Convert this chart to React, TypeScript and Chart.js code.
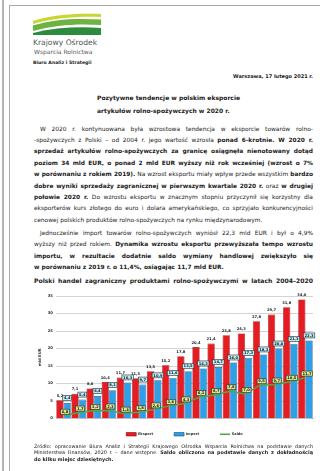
import React, { useEffect, useRef } from 'react';
import { Chart, registerables } from 'chart.js';

Chart.register(...registerables);

const years = ['2004', '2005', '2006', '2007', '2008', '2009', '2010', '2011', '2012', '2013', '2014', '2015', '2016', '2017', '2018', '2019', '2020'];
const exportVals = [5.2, 7.1, 8.6, 10.4, 11.7, 11.5, 13.5, 15.2, 17.8, 20.4, 21.4, 23.8, 24.3, 27.8, 29.7, 31.8, 34.0];
const importVals = [4.4, 5.4, 6.4, 8.1, 10.3, 9.7, 10.9, 11.6, 13.5, 14.3, 14.7, 16.0, 17.3, 18.3, 20.0, 21.3, 22.3];
const saldoVals = [0.8, 1.7, 2.2, 2.3, 1.4, 1.8, 2.6, 3.6, 4.3, 6.1, 6.7, 7.8, 7.0, 9.5, 9.7, 10.5, 11.7];
const seriesNames = ['Eksport', 'Import', 'Saldo'];
const yMax = 35;
const yStep = 5;
const yTitle = 'mld EUR';

const FONT = '"DejaVu Sans", Verdana, sans-serif';
const fmt = (v: number) => v.toFixed(1).replace('.', ',');

type Seg = [string, boolean];

const bodyLines: { segs: Seg[]; indent?: boolean; last?: boolean }[] = [
  { segs: [['W 2020 r. kontynuowana była wzrostowa tendencja w eksporcie towarów rolno-', false]], indent: true },
  { segs: [['-spożywczych z Polski – od 2004 r. jego wartość wzrosła ', false], ['ponad 6-krotnie. W 2020 r.', true]] },
  { segs: [['sprzedaż artykułów rolno-spożywczych za granicę osiągnęła nienotowany dotąd', true]] },
  { segs: [['poziom 34 mld EUR, o ponad 2 mld EUR wyższy niż rok wcześniej (wzrost o 7%', true]] },
  { segs: [['w porównaniu z rokiem 2019).', true], [' Na wzrost eksportu miały wpływ przede wszystkim ', false], ['bardzo', true]] },
  { segs: [['dobre wyniki sprzedaży zagranicznej w pierwszym kwartale 2020 r.', true], [' oraz ', false], ['w drugiej', true]] },
  { segs: [['połowie 2020 r.', true], [' Do wzrostu eksportu w znacznym stopniu przyczynił się korzystny dla', false]] },
  { segs: [['eksporterów kurs złotego do euro i dolara amerykańskiego, co sprzyjało konkurencyjności', false]] },
  { segs: [['cenowej polskich produktów rolno-spożywczych na rynku międzynarodowym.', false]], last: true },
];
const body2Lines: { segs: Seg[]; indent?: boolean; last?: boolean }[] = [
  { segs: [['Jednocześnie import towarów rolno-spożywczych wyniósł 22,3 mld EUR i był o 4,9%', false]], indent: true },
  { segs: [['wyższy niż przed rokiem. ', false], ['Dynamika wzrostu eksportu przewyższała tempo wzrostu', true]] },
  { segs: [['importu, w rezultacie dodatnie saldo wymiany handlowej zwiększyło się', true]] },
  { segs: [['w porównaniu z 2019 r. o 11,4%, osiągając 11,7 mld EUR.', true]], last: true },
];
const footLines: { segs: Seg[]; last?: boolean }[] = [
  { segs: [['Źródło: opracowanie Biura Analiz i Strategii Krajowego Ośrodka Wsparcia Rolnictwa na podstawie danych', false]] },
  { segs: [['Ministerstwa Finansów, 2020 r. – dane wstępne. ', false], ['Saldo obliczono na podstawie danych z dokładnością', true]] },
  { segs: [['do kilku miejsc dziesiętnych.', true]], last: true },
];

function TextLine(props: { segs: Seg[]; center: number; left: number; width: number; size: number; justify: boolean }) {
  const lh = 8;
  return (
    <div
      style={{
        position: 'absolute',
        top: props.center - lh / 2,
        left: props.left,
        width: props.width,
        height: lh,
        lineHeight: lh + 'px',
        fontSize: props.size,
        fontFamily: FONT,
        color: '#1a1a1a',
        whiteSpace: 'nowrap',
        textAlign: props.justify ? 'justify' : 'left',
        textAlignLast: props.justify ? 'justify' : 'left',
      } as any}
    >
      {props.segs.map(([t, b], i) => (
        <span key={i} style={{ fontWeight: b ? 'bold' : 'normal' }}>{t}</span>
      ))}
    </div>
  );
}

const labelPlugin = {
  id: 'valueLabels',
  afterDatasetsDraw(chart: any) {
    const ctx = chart.ctx as CanvasRenderingContext2D;
    ctx.save();
    ctx.textAlign = 'center';
    ctx.textBaseline = 'middle';
    ctx.font = 'bold 3.7px ' + FONT;
    const m0 = chart.getDatasetMeta(0);
    m0.data.forEach((el: any, i: number) => {
      ctx.fillStyle = '#1a1a1a';
      ctx.fillText(fmt(exportVals[i]), el.x, el.y - 4.5);
    });
    const drawBox = (t: string, cx: number, cy: number, fill: string) => {
      const w = ctx.measureText(t).width + 2.4;
      const h = 5;
      ctx.fillStyle = fill;
      ctx.fillRect(cx - w / 2, cy - h / 2, w, h);
      ctx.lineWidth = 0.6;
      ctx.strokeStyle = '#2a2a2a';
      ctx.strokeRect(cx - w / 2, cy - h / 2, w, h);
      ctx.fillStyle = '#1a1a1a';
      ctx.fillText(t, cx, cy + 0.2);
    };
    const m1 = chart.getDatasetMeta(1);
    m1.data.forEach((el: any, i: number) => {
      drawBox(fmt(importVals[i]), el.x, el.y - 5, '#bfeffc');
    });
    const m2 = chart.getDatasetMeta(2);
    m2.data.forEach((el: any, i: number) => {
      drawBox(fmt(saldoVals[i]), el.x + 1.5, el.y - 4, '#dbe98c');
    });
    ctx.restore();
  },
};

function ChartBox() {
  const ref = useRef<HTMLCanvasElement | null>(null);
  useEffect(() => {
    if (!ref.current) return;
    Chart.defaults.font.family = FONT;
    const chart = new Chart(ref.current, {
      type: 'bar',
      data: {
        labels: years,
        datasets: [
          {
            type: 'bar',
            label: seriesNames[0],
            data: exportVals,
            backgroundColor: '#e51d23',
            borderColor: '#8e0a0e',
            borderWidth: 0.6,
            categoryPercentage: 0.96,
            barPercentage: 1,
            order: 1,
          },
          {
            type: 'bar',
            label: seriesNames[1],
            data: importVals,
            backgroundColor: '#2f9fe8',
            borderColor: '#1d4f7c',
            borderWidth: 0.6,
            categoryPercentage: 0.96,
            barPercentage: 1,
            order: 2,
          },
          {
            type: 'line',
            label: seriesNames[2],
            data: saldoVals,
            borderColor: '#4fa845',
            backgroundColor: '#4fa845',
            borderWidth: 1.4,
            pointRadius: 0,
            tension: 0,
            order: 0,
          },
        ] as any,
      },
      options: {
        animation: false,
        responsive: false,
        devicePixelRatio: 1,
        layout: { padding: { left: 0, right: 7, top: 10, bottom: 0 } },
        scales: {
          x: {
            grid: { display: false },
            border: { display: true, color: '#bfbfbf' },
            ticks: { font: { size: 3.4, weight: 'bold' }, color: '#333', padding: 1.5, maxRotation: 0, autoSkip: false },
            afterFit: (s: any) => { s.height = 4; },
          },
          y: {
            min: 0,
            max: yMax,
            ticks: { stepSize: yStep, font: { size: 3.8, weight: 'bold' }, color: '#333', padding: 3 },
            grid: { color: '#d4d4d4', lineWidth: 1, drawTicks: false },
            border: { display: false },
            title: { display: true, text: yTitle, font: { size: 3.8, weight: 'bold' }, color: '#333', padding: { top: 9.6, bottom: 0 } },
            afterFit: (s: any) => { s.width = 28; },
          },
        },
        plugins: {
          tooltip: { enabled: false },
          legend: {
            position: 'bottom',
            fullSize: false,
            labels: {
              usePointStyle: true,
              pointStyleWidth: 10,
              boxHeight: 3.6,
              padding: 10,
              color: '#333',
              font: { size: 3.5, weight: 'bold' },
              generateLabels: (c: any) => {
                const items = (Chart.defaults.plugins.legend.labels as any).generateLabels(c);
                items.sort((a: any, b: any) => a.datasetIndex - b.datasetIndex);
                return items.map((it: any) => ({
                  ...it,
                  text: it.datasetIndex < 2 ? it.text + '         ' : it.text,
                  pointStyle: it.datasetIndex === 2 ? 'line' : 'rect',
                  lineWidth: it.datasetIndex === 2 ? 1.4 : 0.6,
                }));
              },
            },
          },
        },
      } as any,
      plugins: [labelPlugin],
    });
    return () => chart.destroy();
  }, []);
  return (
    <canvas
      ref={ref}
      width={292}
      height={160}
      style={{ position: 'absolute', left: 28, top: 286, width: 292, height: 160 }}
    />
  );
}

function Logo() {
  return (
    <svg style={{ position: 'absolute', left: 33, top: 13 }} width={68} height={23} viewBox="0 0 68 23">
      <path d="M0,8 C18,2 42,0 68,1 L68,4 C44,3 20,5 0,11 Z" fill="#c7d630" />
      <path d="M0,12.5 C20,6 44,5 68,6.5 L68,12 C44,10.5 22,12 0,18 Z" fill="#6db33f" />
      <path d="M0,20 C22,14.5 46,13.5 68,15 L68,22 L0,22 Z" fill="#2c8b3d" />
    </svg>
  );
}

export default function App() {
  const L = 34;
  const W = 279;
  return (
    <div style={{ position: 'absolute', left: 0, top: 0, width: 320, height: 471, overflow: 'hidden', background: '#fff', fontFamily: FONT }}>
      <div style={{ position: 'absolute', left: 2, top: 0, width: 2, height: 471, background: '#b4b4b4' }} />
      <div style={{ position: 'absolute', left: 9, top: 5, width: 1, height: 466, background: '#a8a8a8' }} />
      <div style={{ position: 'absolute', left: 9, top: 5, width: 311, height: 1, background: '#a8a8a8' }} />
      <Logo />
      <div style={{ position: 'absolute', left: 33, top: 38, fontSize: 7.6, lineHeight: '10px', color: '#555', whiteSpace: 'nowrap' }}>Krajowy Ośrodek</div>
      <div style={{ position: 'absolute', left: 34, top: 47, fontSize: 6, lineHeight: '9px', color: '#555', whiteSpace: 'nowrap' }}>Wsparcia Rolnictwa</div>
      <div style={{ position: 'absolute', left: 33, top: 58.5, fontSize: 4.6, lineHeight: '8px', color: '#1a1a1a', fontWeight: 'bold', whiteSpace: 'nowrap' }}>Biuro Analiz i Strategii</div>
      <div style={{ position: 'absolute', right: 7, top: 72, fontSize: 5, lineHeight: '8px', color: '#1a1a1a', fontWeight: 'bold', whiteSpace: 'nowrap' }}>Warszawa, 17 lutego 2021 r.</div>
      <div style={{ position: 'absolute', left: 97, top: 94, fontSize: 6, lineHeight: '8px', color: '#1a1a1a', fontWeight: 'bold', whiteSpace: 'nowrap' }}>Pozytywne tendencje w polskim eksporcie</div>
      <div style={{ position: 'absolute', left: 97, top: 107, fontSize: 6, lineHeight: '8px', color: '#1a1a1a', fontWeight: 'bold', whiteSpace: 'nowrap' }}>artykułów rolno-spożywczych w 2020 r.</div>
      {bodyLines.map((ln, i) => (
        <TextLine key={'b' + i} segs={ln.segs} center={128.5 + i * 11.4} left={ln.indent ? 40 : L} width={ln.indent ? W - 6 : W} size={5.9} justify={!ln.last} />
      ))}
      {body2Lines.map((ln, i) => (
        <TextLine key={'c' + i} segs={ln.segs} center={233 + i * 11.4} left={ln.indent ? 40 : L} width={ln.indent ? W - 6 : W} size={5.9} justify={!ln.last} />
      ))}
      <TextLine segs={[['Polski handel zagraniczny produktami rolno-spożywczymi w latach 2004–2020', true]]} center={281} left={L} width={W} size={6.1} justify={true} />
      <ChartBox />
      {footLines.map((ln, i) => (
        <TextLine key={'f' + i} segs={ln.segs} center={445.5 + i * 6.5} left={L} width={W} size={4.9} justify={!ln.last} />
      ))}
    </div>
  );
}
